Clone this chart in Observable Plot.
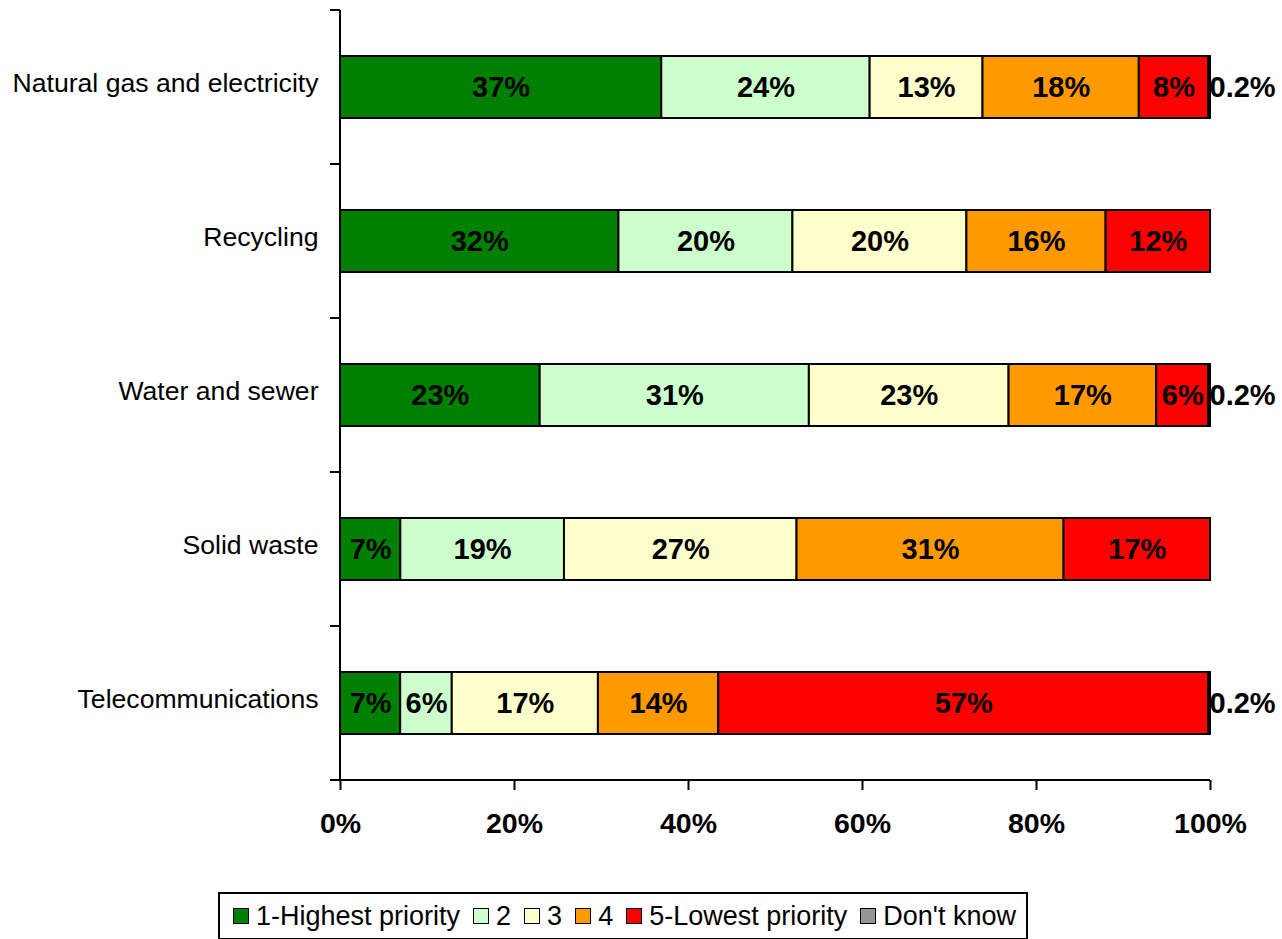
<!DOCTYPE html>
<html>
<head>
<meta charset="utf-8">
<script src="https://cdn.jsdelivr.net/npm/d3@7"></script>
<script src="https://cdn.jsdelivr.net/npm/@observablehq/plot@0.6"></script>
<style>
  body { margin: 0; background: white; font-family: 'Liberation Sans', Arial, sans-serif; }
  #chart svg { display: block; }
  .legend { position: absolute; left: 218px; top: 892px; height: 48px; border: 2px solid black; box-sizing: border-box;
            display: flex; align-items: center; padding-left: 13px; padding-right: 10px; font-size: 27px; color: black; white-space: nowrap; }
  .legend .item { display: flex; align-items: center; margin-right: 13px; }
  .legend .item:last-child { margin-right: 0; }
  .legend .sw { width: 14px; height: 14px; border: 1px solid black; margin-right: 7px; }
</style>
</head>
<body>
<div id="chart"></div>
<div class="legend" id="legend"></div>
<script>
const categories = ["Natural gas and electricity", "Recycling", "Water and sewer", "Solid waste", "Telecommunications"];
const levels = ["1-Highest priority", "2", "3", "4", "5-Lowest priority", "Don't know"];
const colors = ["#008000", "#CCFFCC", "#FFFFCC", "#FF9900", "#FF0000", "#969696"];
const highest = [37, 32, 23, 7, 7];
const p2 = [24, 20, 31, 19, 6];
const p3 = [13, 20, 23, 27, 17];
const p4 = [18, 16, 17, 31, 14];
const lowest = [8, 12, 6, 17, 57];
const dontKnow = [0.2, 0, 0.2, 0, 0.2];
const xTicks = [0, 0.2, 0.4, 0.6, 0.8, 1];

const series = [highest, p2, p3, p4, lowest, dontKnow];
const data = [];
categories.forEach((cat, i) => {
  levels.forEach((lvl, j) => data.push({cat, level: lvl, value: series[j][i]}));
});
const fmt = v => `${v}%`;

function axisFrame(index, scales, values, dims) {
  const g = d3.create("svg:g").attr("stroke", "black").attr("stroke-width", 2);
  const top = dims.marginTop, bottom = dims.height - dims.marginBottom;
  const x0 = scales.x(0), x1 = scales.x(1);
  const n = categories.length;
  for (let i = 0; i <= n; i++) {
    const y = top + i * (bottom - top) / n;
    g.append("line").attr("x1", x0 - 10).attr("x2", x0).attr("y1", y).attr("y2", y);
  }
  g.append("line").attr("x1", x0).attr("x2", x1).attr("y1", bottom).attr("y2", bottom);
  g.append("line").attr("x1", x0).attr("x2", x0).attr("y1", top).attr("y2", bottom);
  return g.node();
}

const chart = Plot.plot({
  width: 1282, height: 860,
  marginLeft: 340, marginRight: 72, marginTop: 10, marginBottom: 80,
  style: {fontFamily: "'Liberation Sans', Arial, sans-serif", background: "white", overflow: "visible", color: "black"},
  x: {domain: [0, 1], axis: null},
  y: {domain: categories, paddingInner: 0.6, paddingOuter: 0.3, axis: null},
  color: {domain: levels, range: colors},
  marks: [
    Plot.text(data, Plot.stackX2({x: "value", y: "cat", offset: "normalize",
      text: d => d.level === "Don't know" && d.value > 0 ? fmt(d.value) : "",
      textAnchor: "start", dx: -1, fontSize: 29, fontWeight: "bold", fill: "black"})),
    Plot.barX(data, Plot.stackX({x: "value", y: "cat", fill: "level", offset: "normalize", stroke: "black", strokeWidth: 2})),
    Plot.text(data, Plot.stackX({x: "value", y: "cat", offset: "normalize",
      text: d => d.level === "Don't know" ? "" : fmt(d.value),
      fontSize: 29, fontWeight: "bold", fill: "black"})),
    Plot.axisY({tickSize: 0, tickPadding: 22, fontSize: 26.6, dy: -4, label: null}),
    Plot.axisX({ticks: xTicks, tickSize: 10, tickPadding: 22, tickFormat: d3.format(".0%"), fontSize: 28.5, fontWeight: "bold", strokeWidth: 2, label: null}),
    axisFrame
  ]
});
document.getElementById("chart").appendChild(chart);

const legend = document.getElementById("legend");
levels.forEach((lvl, j) => {
  const item = document.createElement("div");
  item.className = "item";
  const sw = document.createElement("div");
  sw.className = "sw";
  sw.style.background = colors[j];
  const t = document.createElement("span");
  t.textContent = lvl;
  item.appendChild(sw);
  item.appendChild(t);
  legend.appendChild(item);
});
</script>
</body>
</html>
